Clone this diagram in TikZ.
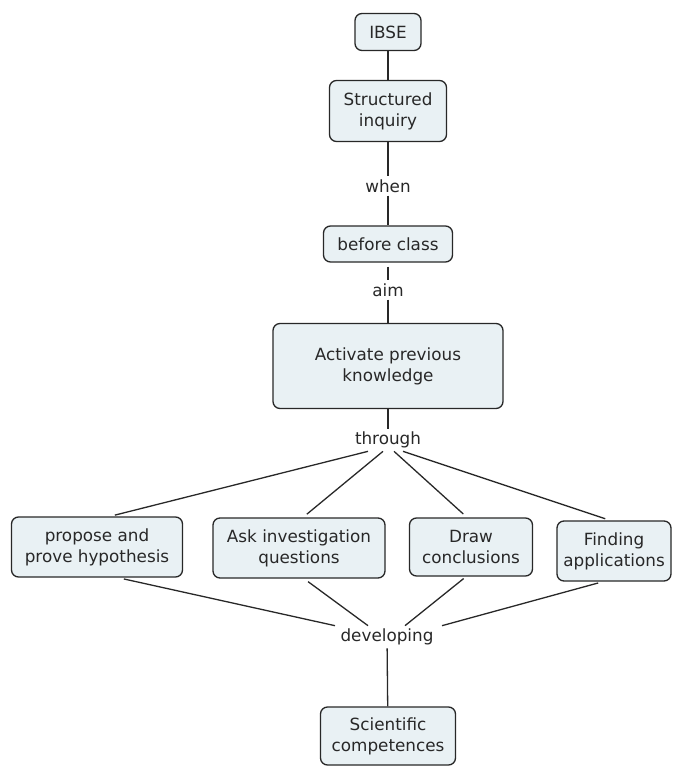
\documentclass[tikz,border=0pt]{standalone}
\usepackage{fontspec}
\setmainfont{DejaVu Sans}
\definecolor{boxfill}{RGB}{233,241,244}
\definecolor{ink}{RGB}{40,40,40}
\begin{document}
\begin{tikzpicture}[x=1pt, y=-1pt,
  every node/.style={font=\fontsize{16.8}{21}\selectfont, text=ink},
  box/.style={draw=ink, line width=1.3pt, fill=boxfill, rounded corners=7pt, align=center, inner sep=2pt},
  lbl/.style={inner sep=3pt},
  link/.style={draw=ink, line width=1.3pt}]
\useasboundingbox (0,0) rectangle (675,767);
% top chain
\node[box,minimum width=66pt,minimum height=37pt] (ibse) at (388,32) {IBSE};
\node[box,minimum width=117pt,minimum height=61pt] (struct) at (388,111) {Structured\\inquiry};
\node[lbl] (when) at (388,186) {when};
\node[box,minimum width=129pt,minimum height=36pt] (before) at (388,244) {before class};
\node[lbl] (aim) at (388,290) {aim};
\node[box,minimum width=230pt,minimum height=85pt] (act) at (388,366) {Activate previous\\knowledge};
\node[lbl] (through) at (388,440) {through};
\draw[link] (ibse) -- (struct);
\draw[link] (struct) -- (when);
\draw[link] (when) -- (before);
\draw[link,shorten <=4pt] (before) -- (aim);
\draw[link] (aim) -- (act);
\draw[link] (act) -- (through);
% activities
\node[box,minimum width=171pt,minimum height=60pt] (prop) at (97,547) {propose and\\prove hypothesis};
\node[box,minimum width=172pt,minimum height=60pt] (ask) at (299,548) {Ask investigation\\questions};
\node[box,minimum width=123pt,minimum height=58pt] (concl) at (471,547) {Draw\\conclusions};
\node[box,minimum width=114pt,minimum height=60pt] (appl) at (614,551) {Finding\\applications};
\draw[link,shorten >=5pt] ([xshift=-20pt]through.south) -- ([xshift=13pt]prop.north);
\draw[link,shorten >=5pt] ([xshift=-5pt]through.south) -- ([xshift=4pt]ask.north);
\draw[link,shorten >=5pt] ([xshift=6pt]through.south) -- ([xshift=-4pt]concl.north);
\draw[link,shorten >=5pt] ([xshift=15pt]through.south) -- ([xshift=-4pt]appl.north);
% outcome
\node[lbl] (dev) at (387,637) {developing};
\node[box,minimum width=135pt,minimum height=58pt] (sci) at (388,736) {Scientific\\competences};
\draw[link,shorten <=6pt] ([xshift=21pt]prop.south) -- ([xshift=-52pt]dev.north);
\draw[link,shorten <=5pt] ([xshift=5pt]ask.south) -- ([xshift=-19pt]dev.north);
\draw[link,shorten <=3pt] ([xshift=-5pt]concl.south) -- ([xshift=18pt]dev.north);
\draw[link,shorten <=5pt] ([xshift=-11pt]appl.south) -- ([xshift=55pt]dev.north);
\draw[link] (dev) -- (sci);
\end{tikzpicture}
\end{document}
